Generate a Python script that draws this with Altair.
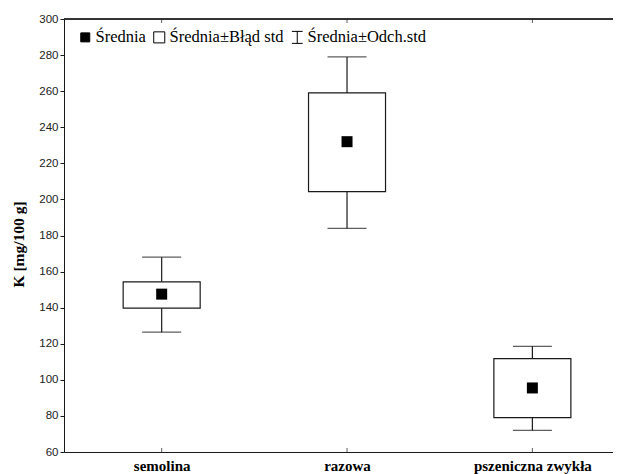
import altair as alt
import pandas as pd

categories = ["semolina", "razowa", "pszeniczna zwykła"]
positions = [1, 2, 3]
mean = [147.5, 232.0, 95.5]
se_low = [139.7, 204.3, 79.1]
se_high = [154.3, 259.0, 111.8]
sd_low = [126.4, 184.0, 72.0]
sd_high = [168.0, 279.0, 118.6]
y_ticks = list(range(60, 301, 20))
legend_labels = ["Średnia", "Średnia±Błąd std", "Średnia±Odch.std"]

df = pd.DataFrame({
    "cat": categories, "pos": positions, "mean": mean,
    "se_low": se_low, "se_high": se_high, "sd_low": sd_low, "sd_high": sd_high,
})
leg = pd.DataFrame({"lab": legend_labels})

W, H = 549, 433
SERIF = "Liberation Serif"
SANS = "Liberation Sans"
LINE = "#1a1a1a"

label_expr = ("datum.value == 1 ? 'semolina' : datum.value == 2 ? 'razowa' : "
              "datum.value == 3 ? 'pszeniczna zwykła' : ''")

xs = alt.Scale(domain=[0.5, 3.408], nice=False, zero=False)
ys = alt.Scale(domain=[60, 300], nice=False, zero=False)

x_axis = alt.Axis(
    values=positions, labelExpr=label_expr, title=None, grid=False, ticks=False,
    domain=True, domainColor=LINE, domainWidth=1, labelFont=SERIF, labelFontWeight="bold",
    labelFontSize=15, labelColor="black", labelPadding=6)
y_axis = alt.Axis(
    values=y_ticks, title="K [mg/100 g]", grid=False, ticks=True, tickSize=4,
    tickColor=LINE, domain=True, domainColor=LINE, labelFont=SANS, labelFontSize=11.5,
    labelColor="#222", labelPadding=2, labelOverlap=False, labelFlush=False,
    titleFont=SERIF, titleFontWeight="bold",
    titleFontSize=15.5, titleColor="black", titleX=-46, titleY=225,
    titleBaseline="middle", titleAlign="center", titleAngle=270)


def X(f="pos:Q"):
    return alt.X(f, scale=xs, axis=x_axis)


def Y(f):
    return alt.Y(f, scale=ys, axis=y_axis)


base = alt.Chart(df)

whisk = base.mark_rule(color=LINE, strokeWidth=1.2).encode(
    x=X(), y=Y("sd_low:Q"), y2="sd_high:Q")
cap_hi = base.mark_tick(orient="horizontal", size=39, thickness=1.2, color=LINE).encode(
    x=X(), y=Y("sd_high:Q"))
cap_lo = base.mark_tick(orient="horizontal", size=39, thickness=1.2, color=LINE).encode(
    x=X(), y=Y("sd_low:Q"))
box = base.mark_bar(size=77, fill="white", stroke=LINE, strokeWidth=1.2).encode(
    x=X(), y=Y("se_low:Q"), y2="se_high:Q")
pt = base.mark_square(size=121, color="black", opacity=1).encode(
    x=X(), y=Y("mean:Q"))

top_line = base.mark_rule(color=LINE, strokeWidth=1).encode(
    y=alt.datum(300, scale=ys, axis=y_axis), x=alt.value(0), x2=alt.value(W))
top_ticks = base.mark_tick(orient="vertical", size=4, thickness=1, yOffset=2, color=LINE).encode(
    x=X(), y=alt.datum(300, scale=ys, axis=y_axis))
bot_ticks = base.mark_tick(orient="vertical", size=4, thickness=1, yOffset=-2, color=LINE).encode(
    x=X(), y=alt.datum(60, scale=ys, axis=y_axis))

shapes = [
    "M-0.75,-0.75H0.75V0.75H-0.75Z",
    "M-0.92,-0.92H0.92V0.92H-0.92Z",
    "M-0.9,-1H0.9M0,-1V1M-0.9,1H0.9",
]
legend = alt.Legend(
    title=None, orient="none", direction="horizontal", legendX=13, legendY=10,
    padding=0, labelFont=SERIF, labelFontSize=16.5, labelColor="black",
    labelOffset=2, columnPadding=5, symbolSize=144,
    symbolStrokeWidth=1, symbolOpacity=1)
dummy = alt.Chart(leg).mark_point(filled=True, clip=True, strokeWidth=1).encode(
    x=alt.value(-60), y=alt.value(-60),
    shape=alt.Shape("lab:N", scale=alt.Scale(domain=legend_labels, range=shapes), legend=legend),
    fill=alt.Fill("lab:N", scale=alt.Scale(domain=legend_labels, range=["black", "white", "white"]),
                  legend=legend),
    stroke=alt.Stroke("lab:N", scale=alt.Scale(domain=legend_labels, range=["black", "black", "black"]),
                      legend=legend),
)

chart = alt.layer(whisk, cap_hi, cap_lo, box, pt, top_line, top_ticks, bot_ticks, dummy).properties(
    width=W, height=H,
    autosize=alt.AutoSizeParams(type="none"),
    padding={"left": 56, "top": 11, "right": 0, "bottom": 22},
).configure_view(stroke=None).configure_axis(labelOverlap=False).configure(background="white")

chart.save("out.html", embed_options={"renderer": "svg", "actions": False})
